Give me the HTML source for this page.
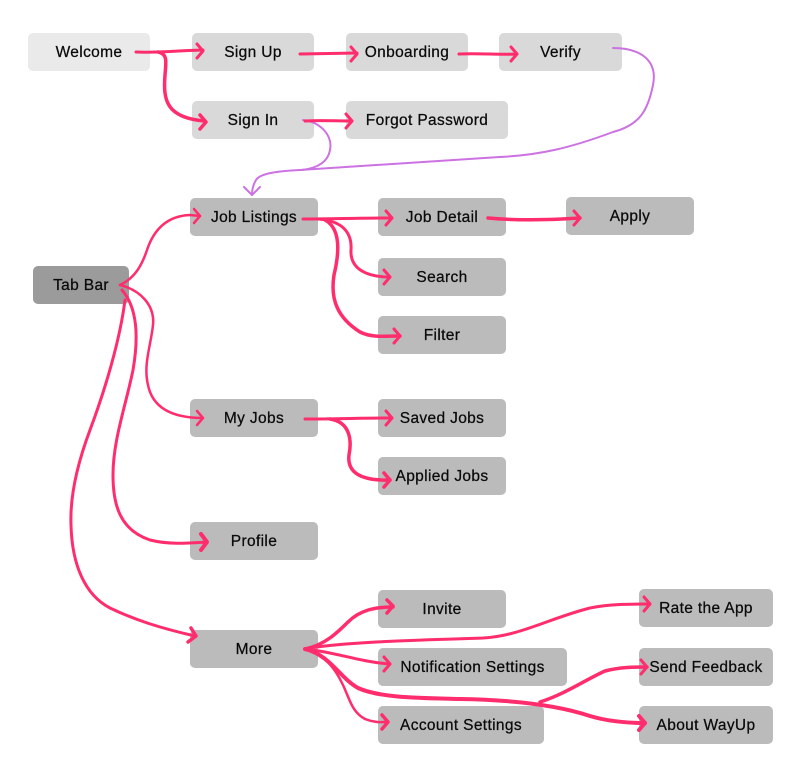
<!DOCTYPE html>
<html><head><meta charset="utf-8"><style>
html,body{margin:0;padding:0;background:#fff;}
body{width:810px;height:777px;position:relative;overflow:hidden;font-family:"Liberation Sans",sans-serif;}
.b{position:absolute;height:38px;box-sizing:border-box;padding-top:2px;border-radius:5px;background:#bbbbbb;color:#0a0a0a;font-size:15.5px;letter-spacing:0.35px;-webkit-text-stroke:0.25px #0a0a0a;display:flex;align-items:center;justify-content:center;white-space:nowrap;}
.l1{background:#eaeaea}.l2{background:#d9d9d9}.dk{background:#9b9b9b}
svg{position:absolute;left:0;top:0;}
</style></head><body>
<div class="b l1" style="left:28px;top:33px;width:122px;">Welcome</div>
<div class="b l2" style="left:192px;top:33px;width:122px;">Sign Up</div>
<div class="b l2" style="left:346px;top:33px;width:122px;">Onboarding</div>
<div class="b l2" style="left:499px;top:33px;width:123px;">Verify</div>
<div class="b l2" style="left:192px;top:101px;width:122px;">Sign In</div>
<div class="b l2" style="left:346px;top:101px;width:162px;">Forgot Password</div>
<div class="b" style="left:190px;top:198px;width:128px;">Job Listings</div>
<div class="b" style="left:378px;top:198px;width:128px;">Job Detail</div>
<div class="b" style="left:566px;top:197px;width:128px;">Apply</div>
<div class="b dk" style="left:33px;top:266px;width:96px;">Tab Bar</div>
<div class="b" style="left:378px;top:258px;width:128px;">Search</div>
<div class="b" style="left:378px;top:316px;width:128px;">Filter</div>
<div class="b" style="left:190px;top:399px;width:128px;">My Jobs</div>
<div class="b" style="left:378px;top:399px;width:128px;">Saved Jobs</div>
<div class="b" style="left:378px;top:457px;width:128px;">Applied Jobs</div>
<div class="b" style="left:190px;top:522px;width:128px;">Profile</div>
<div class="b" style="left:190px;top:630px;width:128px;">More</div>
<div class="b" style="left:378px;top:590px;width:128px;">Invite</div>
<div class="b" style="left:378px;top:648px;width:189px;">Notification Settings</div>
<div class="b" style="left:378px;top:706px;width:166px;">Account Settings</div>
<div class="b" style="left:639px;top:589px;width:134px;">Rate the App</div>
<div class="b" style="left:639px;top:648px;width:134px;">Send Feedback</div>
<div class="b" style="left:639px;top:706px;width:134px;">About WayUp</div>

<svg width="810" height="777" viewBox="0 0 810 777" fill="none" stroke-linecap="round" stroke-linejoin="round">
<g stroke="#cc72e2" stroke-width="2">
<path d="M303,120 C320,122 333,135 330,150 C328,162 318,168 302,170"/>
<path d="M613,48 C640,48 658,60 653,85 C648,110 640,125 613,132 C570,148 540,155 500,157 C420,162 340,168 300,170 C280,171 260,173 256,180 C253,185 252,190 252,195"/>
<polyline points="244,187 252,195 260,187"/>
</g>
<g stroke="#ff2d6d" stroke-width="3">
<path d="M136,52 C155,53 170,51 203,50"/>
<polyline points="197,44 203,51 197,58"/>
<path d="M158,52 C168,54 166,62 165,75 C163,100 166,118 205,121" stroke-width="3.5"/>
<polyline points="200,115 206,122 200,129" stroke-width="3.5"/>
<path d="M300,54 L357,53"/>
<polyline points="351,47 357,54 351,61"/>
<path d="M459,54 C480,53 500,55 517,54"/>
<polyline points="511,47 517,54 511,61"/>
<path d="M305,121 C320,120 335,121 352,121"/>
<polyline points="346,114 352,121 346,128"/>

<path d="M120,285 C135,278 142,265 147,250 C153,232 165,216 190,215 L200,216" stroke-width="2.5"/>
<polyline points="194,209 200,216 194,223" stroke-width="2.5"/>
<path d="M120,285 C140,290 155,305 153,325 C151,345 143,365 148,385 C153,410 175,418 203,418" stroke-width="2.5"/>
<polyline points="197,411 203,418 197,425" stroke-width="2.5"/>
<path d="M122,290 C135,305 140,330 133,370 C126,405 113,440 113,475 C113,505 120,530 150,540 C170,545 190,543 207,542"/>
<polyline points="201,534 207,542 201,550" stroke-width="4"/>
<path d="M125,300 C120,340 105,390 90,430 C75,470 70,500 71,525 C72,565 85,595 110,608 C135,620 160,628 195,636"/>
<polyline points="191,628 196,636 188,642" stroke-width="3.5"/>

<path d="M303,219 C330,219 360,218 392,218"/>
<polyline points="386,211 392,218 386,225"/>
<path d="M318,219 C345,221 352,235 351,250 C350,268 365,277 390,277"/>
<polyline points="384,270 390,277 384,284"/>
<path d="M325,220 C340,228 340,250 334,275 C330,300 338,318 360,332 C372,338 385,336 400,336" stroke-width="3.5"/>
<polyline points="394,329 400,336 394,343"/>
<path d="M488,218 C520,221 550,220 580,218" stroke-width="3.5"/>
<polyline points="574,211 580,218 574,225"/>
<path d="M305,419 C335,419 365,418 392,418"/>
<polyline points="386,411 392,418 386,425"/>
<path d="M330,419 C350,422 352,440 349,455 C347,472 360,481 390,480" stroke-width="3.5"/>
<polyline points="384,473 390,480 384,487" stroke-width="3.5"/>

<path d="M305,649 C325,645 338,632 348,622 C360,610 375,607 393,607" stroke-width="3.5"/>
<polyline points="387,600 393,606 387,613" stroke-width="3.5"/>
<path d="M305,649 C340,642 420,640 483,638 C520,636 550,618 590,608 C610,604 630,604 650,604"/>
<polyline points="644,597 650,604 644,611"/>
<path d="M305,649 C335,652 360,662 390,664"/>
<polyline points="384,657 390,664 384,671"/>
<path d="M305,649 C330,655 340,678 358,688 C380,698 420,698 460,699 C520,700 560,706 590,716 C610,722 630,723 645,723" stroke-width="4"/>
<polyline points="639,716 645,723 639,730" stroke-width="4"/>
<path d="M540,702 C565,694 585,680 605,671 C620,667 635,667 647,667" stroke-width="3.5"/>
<polyline points="641,660 647,667 641,674"/>
<path d="M305,649 C325,655 335,668 343,685 C350,700 352,712 365,719 C375,723 382,722 388,722" stroke-width="2.5"/>
<polyline points="382,715 388,722 382,729" stroke-width="3.5"/>
</g>
</svg>
</body></html>
